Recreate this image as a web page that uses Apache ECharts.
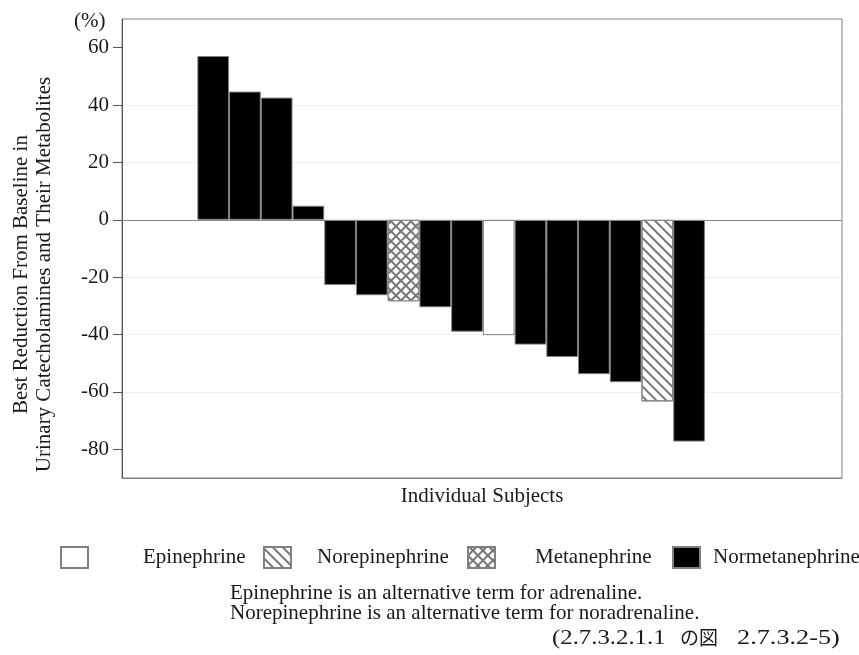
<!DOCTYPE html>
<html>
<head>
<meta charset="utf-8">
<script src="https://cdn.jsdelivr.net/npm/echarts@6/dist/echarts.min.js"></script>
<style>
  html, body { margin: 0; padding: 0; background: #fff; }
  #chart { width: 859px; height: 655px; }
</style>
</head>
<body>
<div id="chart"></div>
<script>
// subject number, best reduction (%) and which analyte gave it
const subjects = [1, 2, 3, 4, 5, 6, 7, 8, 9, 10, 11, 12, 13, 14, 15, 16];
const values = [57.1, 44.7, 42.6, 4.9, -22.7, -26.3, -28.4, -30.5, -39.0, -40.2, -43.5, -47.8, -53.8, -56.6, -63.3, -77.3];
const types = ['Normetanephrine', 'Normetanephrine', 'Normetanephrine', 'Normetanephrine', 'Normetanephrine',
  'Normetanephrine', 'Metanephrine', 'Normetanephrine', 'Normetanephrine', 'Epinephrine', 'Normetanephrine',
  'Normetanephrine', 'Normetanephrine', 'Normetanephrine', 'Norepinephrine', 'Normetanephrine'];
const legendNames = ['Epinephrine', 'Norepinephrine', 'Metanephrine', 'Normetanephrine'];
const yTicks = [-80, -60, -40, -20, 0, 20, 40, 60];

const FONT = "'Liberation Serif', 'Times New Roman', serif";
const JFONT = "'Noto Sans CJK JP', sans-serif";
const edge = '#808080';
const ink = '#1a1a1a';

const itemStyles = {
  Epinephrine: { color: '#fff', borderColor: edge, borderWidth: 1 },
  Norepinephrine: {
    color: '#fff', borderColor: edge, borderWidth: 1,
    decal: { symbol: 'rect', symbolSize: 1, color: '#777', dashArrayX: [1, 0], dashArrayY: [1.6, 4.4], rotation: Math.PI / 4 }
  },
  Metanephrine: {
    color: '#777', borderColor: edge, borderWidth: 1,
    decal: { symbol: 'rect', symbolSize: 1, color: '#fff', dashArrayX: [4.6, 1.3], dashArrayY: [4.6, 1.3], rotation: Math.PI / 4 }
  },
  Normetanephrine: { color: '#000', borderColor: edge, borderWidth: 1 }
};

// legend layout: box left edge and gap before the text
const legendLeft = [60, 263, 467, 672];
const legendPad = [50, 21, 35, 8];

const chart = echarts.init(document.getElementById('chart'));

const series = legendNames.map(function (name) {
  const s = {
    name: name,
    type: 'bar',
    barWidth: 31.7,
    barGap: '-100%',
    itemStyle: itemStyles[name],
    data: subjects.map(function (x, i) { return types[i] === name ? [x, values[i]] : null; })
      .filter(function (d) { return d; })
  };
  if (name === 'Normetanephrine') {
    s.markLine = {
      silent: true, symbol: 'none', label: { show: false },
      lineStyle: { color: '#888', type: 'solid', width: 1 },
      data: [{ yAxis: 0 }]
    };
  }
  return s;
});

function txt(x, y, text, font, sx) {
  return {
    type: 'text', x: x, y: y, scaleX: sx || 1, silent: true,
    style: { text: text, font: font || ('21px ' + FONT), fill: ink, align: 'left', verticalAlign: 'middle' }
  };
}

chart.setOption({
  animation: false,
  textStyle: { fontFamily: FONT },
  grid: { left: 122, top: 19, right: 17, bottom: 177, show: true, borderColor: '#808080', borderWidth: 1 },
  xAxis: {
    type: 'value',
    min: -1.875,
    max: 20.82,
    name: 'Individual Subjects',
    nameLocation: 'middle',
    nameGap: 8,
    nameTextStyle: { fontFamily: FONT, fontSize: 21, color: ink, verticalAlign: 'top' },
    axisLine: { show: true, onZero: false, lineStyle: { color: '#808080' } },
    axisTick: { show: false },
    axisLabel: { show: false },
    splitLine: { show: false }
  },
  yAxis: {
    type: 'value',
    min: -90,
    max: 70,
    interval: 10,
    name: 'Best Reduction From Baseline in\nUrinary Catecholamines and Their Metabolites',
    nameLocation: 'middle',
    nameGap: 66,
    nameTextStyle: { fontFamily: FONT, fontSize: 21, color: ink, lineHeight: 23, padding: [0, 52, 0, 0] },
    axisLine: { show: true, onZero: false, lineStyle: { color: '#555' } },
    axisTick: {
      show: true, length: 9, lineStyle: { color: '#555' },
      customValues: yTicks
    },
    axisLabel: {
      fontFamily: FONT, fontSize: 21, color: ink, margin: 13,
      customValues: yTicks
    },
    splitLine: { show: true, lineStyle: { color: '#eeeeee' }, showMinLine: false, showMaxLine: false }
  },
  legend: legendNames.map(function (name, i) {
    return {
      data: [name],
      left: legendLeft[i],
      top: 546,
      padding: 0,
      icon: 'rect',
      itemWidth: 27,
      itemHeight: 21,
      selectedMode: false,
      textStyle: { fontFamily: FONT, fontSize: 21, color: ink, padding: [0, 0, 0, legendPad[i]] }
    };
  }),
  graphic: [
    txt(74, 21, '(%)'),
    txt(230, 593, 'Epinephrine is an alternative term for adrenaline.'),
    txt(230, 613, 'Norepinephrine is an alternative term for noradrenaline.'),
    // the source line uses half-width spacing, widened to match
    txt(552, 638, '(2.7.3.2.1.1', null, 1.18),
    txt(680, 638, 'の図', '19px ' + JFONT),
    txt(737, 638, '2.7.3.2-5)', null, 1.25)
  ],
  series: series
});
</script>
</body>
</html>
